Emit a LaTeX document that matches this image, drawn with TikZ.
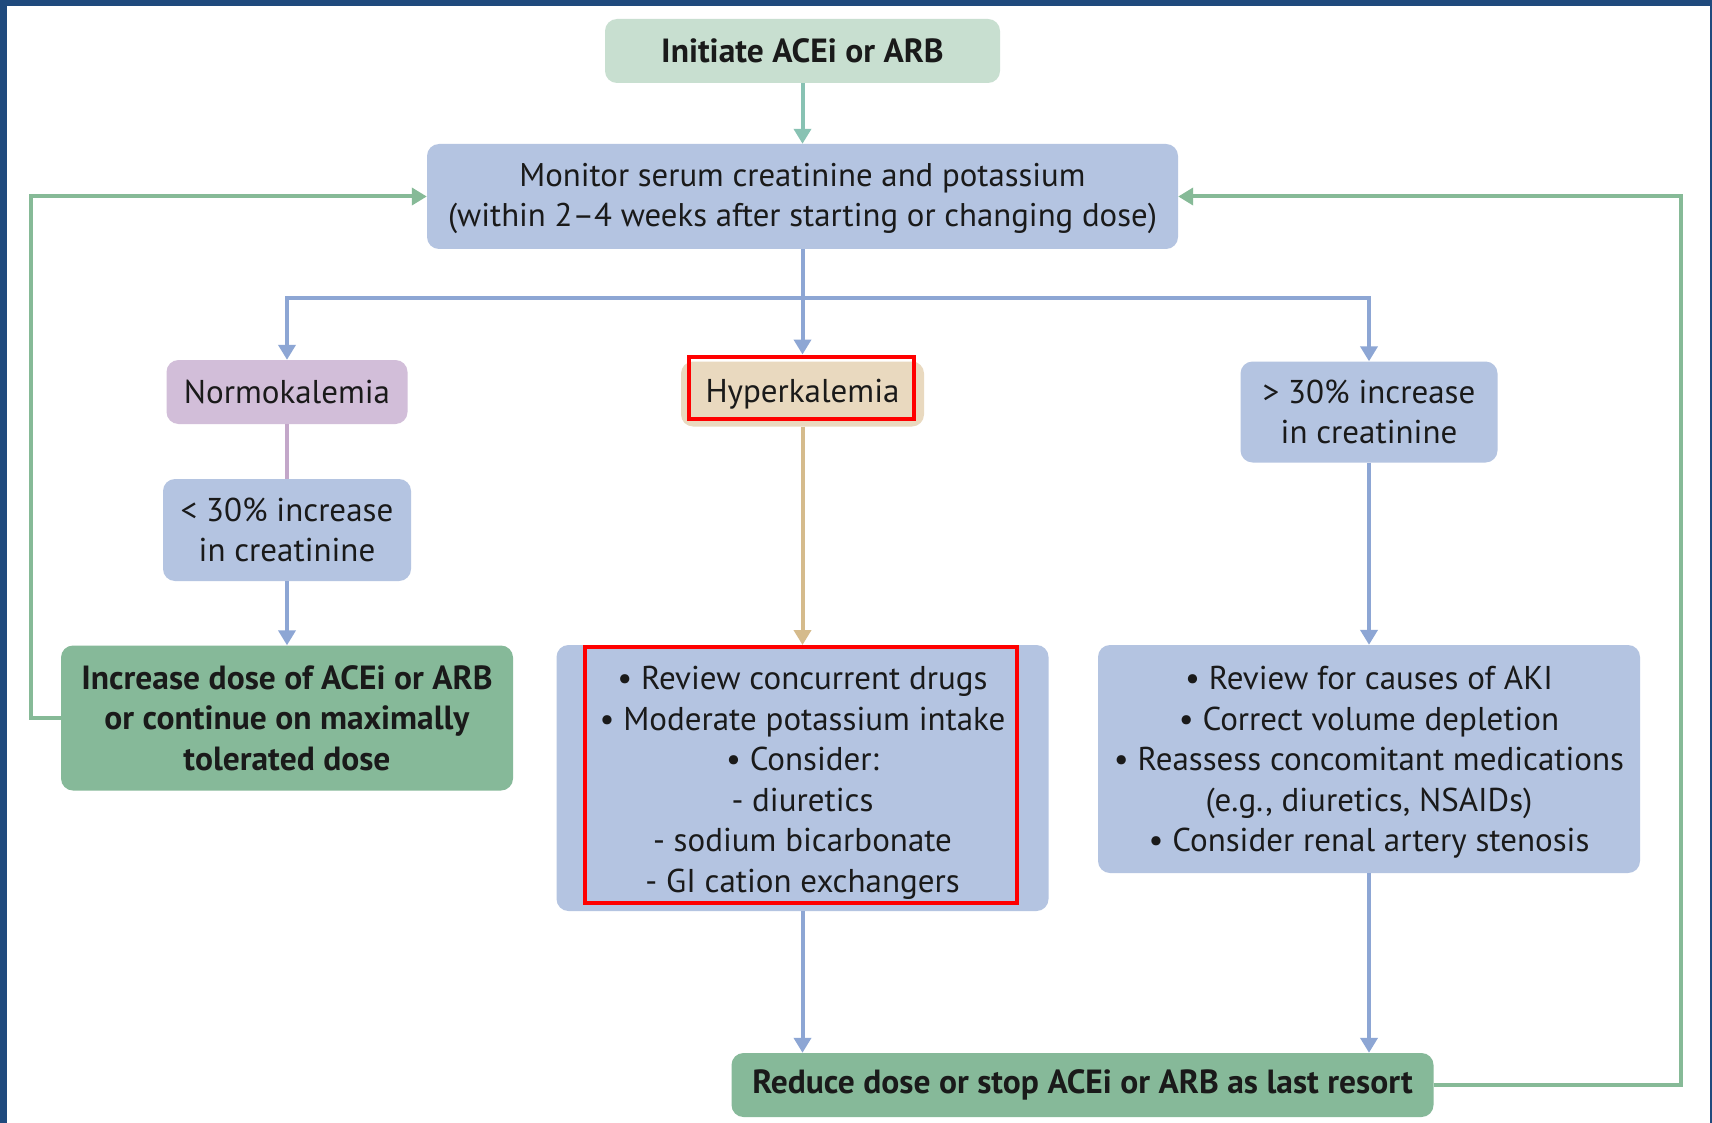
\documentclass[tikz,border=0pt]{standalone}
\usepackage{fontspec}
\setmainfont{PT Sans}
\usetikzlibrary{arrows.meta,calc}
\definecolor{frameblue}{HTML}{1F4A7D}
\definecolor{initfill}{HTML}{C8DFD0}
\definecolor{tealline}{HTML}{88C2B3}
\definecolor{bluefill}{HTML}{B4C4E1}
\definecolor{blueline}{HTML}{8DA6D4}
\definecolor{purplefill}{HTML}{D2BED9}
\definecolor{purpleline}{HTML}{C3A7C9}
\definecolor{tanfill}{HTML}{E9D9BF}
\definecolor{tanline}{HTML}{D5BB8C}
\definecolor{greenfill}{HTML}{86B999}
\definecolor{greenline}{HTML}{86BA97}
\definecolor{txt}{HTML}{1A1A1A}
\tikzset{
  box/.style={rounded corners=12pt, inner sep=0pt, align=center, text=txt,
    font=\fontsize{33}{40.5}\selectfont},
  boldbox/.style={box, font=\fontsize{33.5}{40.5}\selectfont\bfseries},
  plaintext/.style={inner sep=0pt, align=center, text=txt, font=\fontsize{33}{40.5}\selectfont},
  redframe/.style={draw=red, line width=4pt, inner sep=0pt},
  conn/.style={line width=4pt},
  tip/.style={-{Triangle[width=17pt,length=15pt]}},
}
\begin{document}
\begin{tikzpicture}[x=1pt,y=-1pt]
\useasboundingbox (0,0) rectangle (1712,1123);
\fill[frameblue] (0,0) rectangle (1712,1123);
\fill[white] (7,6) rectangle (1709.5,1123);

% nodes
\node[boldbox, fill=initfill, minimum width=395pt, minimum height=64pt] (init) at (802.5,51) {Initiate ACEi or ARB};
\node[box, fill=bluefill, minimum width=751pt, minimum height=105pt] (mon) at (802.5,196.5) {};
\node[plaintext, font=\fontsize{32.8}{40.5}\selectfont] (mont) at (802.5,198.5) {Monitor serum creatinine and potassium\\(within 2–4 weeks after starting or changing dose)};
\node[box, fill=purplefill, minimum width=241pt, minimum height=64pt] (normo) at (287,392) {Normokalemia};
\node[box, fill=tanfill, minimum width=243pt, minimum height=65pt] (hyper) at (802.5,394) {Hyperkalemia};
\node[redframe, minimum width=225pt, minimum height=62pt] (hyperred) at (801,387.5) {};
\node[box, fill=bluefill, minimum width=257pt, minimum height=101pt] (up) at (1369,412) {> 30\% increase\\in creatinine};
\node[box, fill=bluefill, minimum width=248pt, minimum height=102pt] (low) at (287,530) {< 30\% increase\\in creatinine};
\node[boldbox, fill=greenfill, minimum width=452pt, minimum height=145pt] (inc) at (287,718) {Increase dose of ACEi or ARB\\or continue on maximally\\tolerated dose};
\node[box, fill=bluefill, minimum width=492pt, minimum height=266pt] (mid) at (802.5,778) {};
\node[plaintext] (midt) at (802.5,783) {• Review concurrent drugs\\• Moderate potassium intake\\• Consider:\\- diuretics\\- sodium bicarbonate\\- GI cation exchangers};
\node[redframe, minimum width=432pt, minimum height=256pt] (midred) at (801,775) {};
\node[box, fill=bluefill, minimum width=542pt, minimum height=228pt] (rbox) at (1369,759) {};
\node[plaintext] (rboxt) at (1369,762.5) {• Review for causes of AKI\\• Correct volume depletion\\• Reassess concomitant medications\\(e.g., diuretics, NSAIDs)\\• Consider renal artery stenosis};
\node[boldbox, fill=greenfill, minimum width=702pt, minimum height=64pt] (red) at (1082.5,1085) {Reduce dose or stop ACEi or ARB as last resort};

% coordinates
\coordinate (bj) at (802.5,298);
\coordinate (lc) at (30.5,196.5);
\coordinate (rc) at (1681,196.5);

% connectors
\draw[conn, tealline, tip] (init.south) -- (mon.north);
\draw[conn, blueline] (mon.south) -- (bj);
\draw[conn, blueline, tip] (bj) -| (normo.north);
\draw[conn, blueline, tip] (bj) -- (bj |- hyperred.north);
\draw[conn, blueline, tip] (bj) -| (up.north);
\draw[conn, purpleline] (normo.south) -- (low.north);
\draw[conn, blueline, tip] (low.south) -- (low.south |- inc.north);
\draw[conn, tanline, tip] (hyper.south) -- (hyper.south |- midred.north);
\draw[conn, blueline, tip] (up.south) -- (up.south |- rbox.north);
\draw[conn, blueline, tip] (mid.south) -- (mid.south |- red.north);
\draw[conn, blueline, tip] (rbox.south) -- (rbox.south |- red.north);
\draw[conn, greenline, tip] (inc.west) -| (lc) -- (mon.west);
\draw[conn, greenline, tip] (red.east) -| (rc) -- (mon.east);
\end{tikzpicture}
\end{document}
